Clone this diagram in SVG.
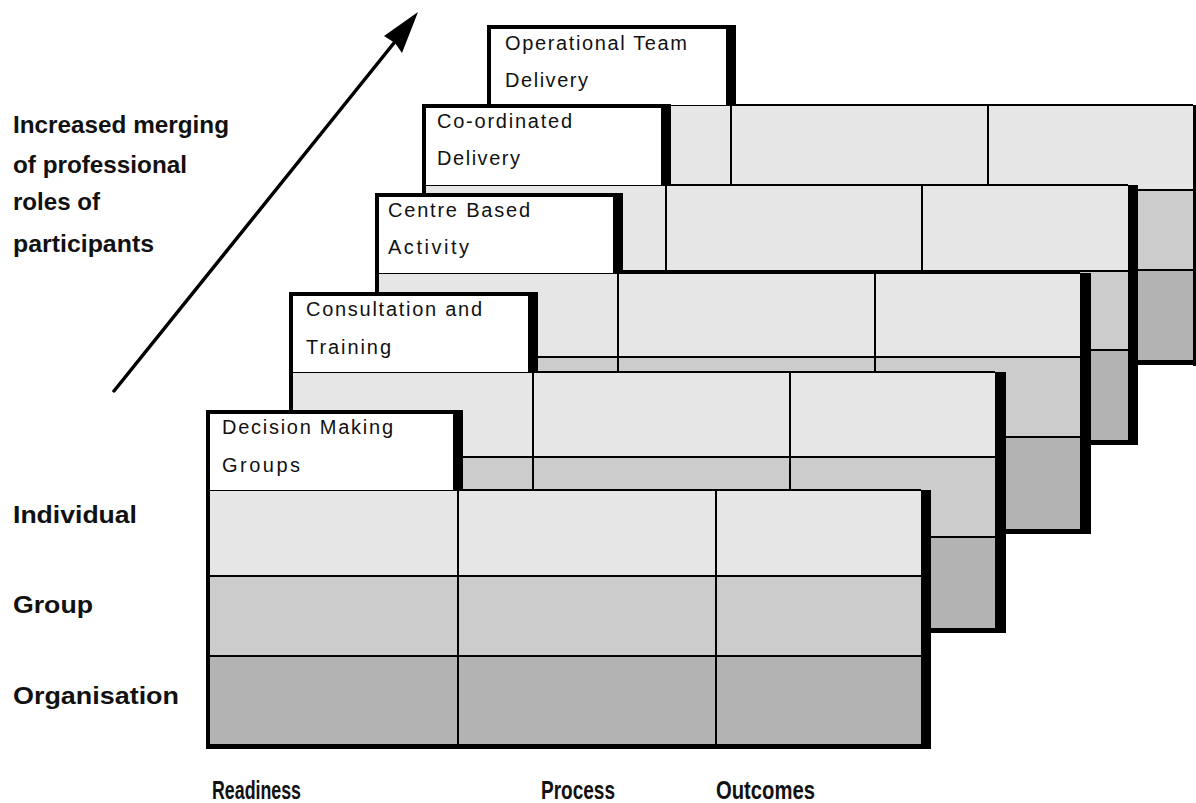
<svg xmlns="http://www.w3.org/2000/svg" width="1196" height="803" viewBox="0 0 1196 803">
<style>
.light{fill:#e6e6e6}
.mid{fill:#cccccc}
.dark{fill:#b3b3b3}
.ln{stroke:#000;stroke-width:2;fill:none}
.tab{fill:#fff}
.blk{fill:#000}
.tt{font-family:"Liberation Sans",Arial,sans-serif;font-size:20px;fill:#111}
.lb{font-family:"Liberation Sans",Arial,sans-serif;font-size:24px;font-weight:bold;fill:#111}
.ax{font-family:"Liberation Sans",Arial,sans-serif;font-size:25px;font-weight:bold;fill:#111}
</style>
<rect x="0" y="0" width="1196" height="803" fill="#fff"/>

<!-- Layer 4: Operational Team Delivery -->
<g id="layer-operational">
<rect class="light" x="487" y="105" width="706" height="85"/>
<rect class="mid" x="487" y="190" width="706" height="80"/>
<rect class="dark" x="487" y="270" width="706" height="90"/>
<path class="ln" d="M487 105H1193M487 190H1193M487 270H1193M731 105V360M988 105V360"/>
<rect class="tab" x="487" y="25" width="244" height="80"/>
<rect class="blk" x="487" y="25" width="249" height="4"/>
<rect class="blk" x="726" y="25" width="10" height="81"/>
<rect class="blk" x="487" y="25" width="4" height="340"/>
<rect class="blk" x="1193" y="105" width="10" height="261"/>
<rect class="blk" x="487" y="360" width="716" height="5"/>
<text class="tt" x="505" y="50" textLength="182" lengthAdjust="spacing">Operational Team</text>
<text class="tt" x="505" y="87" textLength="83" lengthAdjust="spacing">Delivery</text>
</g>

<!-- Layer 3: Co-ordinated Delivery -->
<g id="layer-coordinated">
<rect class="light" x="422" y="185" width="706" height="86"/>
<rect class="mid" x="422" y="271" width="706" height="79"/>
<rect class="dark" x="422" y="350" width="706" height="90"/>
<path class="ln" d="M422 185H1128M422 271H1128M422 350H1128M666 185V440M922 185V440"/>
<rect class="tab" x="422" y="104" width="244" height="81"/>
<rect class="blk" x="422" y="104" width="249" height="4"/>
<rect class="blk" x="661" y="104" width="10" height="82"/>
<rect class="blk" x="422" y="104" width="4" height="340"/>
<rect class="blk" x="1128" y="185" width="10" height="260"/>
<rect class="blk" x="422" y="440" width="716" height="5"/>
<text class="tt" x="437" y="128" textLength="135" lengthAdjust="spacing">Co-ordinated</text>
<text class="tt" x="437" y="165" textLength="83" lengthAdjust="spacing">Delivery</text>
</g>

<!-- Layer 2: Centre Based Activity -->
<g id="layer-centre">
<rect class="light" x="375" y="273" width="705" height="84"/>
<rect class="mid" x="375" y="357" width="705" height="80"/>
<rect class="dark" x="375" y="437" width="705" height="92"/>
<path class="ln" d="M375 273H1080M375 357H1080M375 437H1080M618 273V529M875 273V529"/>
<rect class="tab" x="375" y="193" width="243" height="80"/>
<rect class="blk" x="375" y="193" width="248" height="4"/>
<rect class="blk" x="613" y="193" width="10" height="81"/>
<rect class="blk" x="375" y="193" width="4" height="340"/>
<rect class="blk" x="1080" y="273" width="11" height="260"/>
<rect class="blk" x="375" y="529" width="716" height="5"/>
<text class="tt" x="388" y="217" textLength="142" lengthAdjust="spacing">Centre Based</text>
<text class="tt" x="388" y="254" textLength="81" lengthAdjust="spacing">Activity</text>
</g>

<!-- Layer 1: Consultation and Training -->
<g id="layer-consultation">
<rect class="light" x="289" y="372" width="706" height="85"/>
<rect class="mid" x="289" y="457" width="706" height="80"/>
<rect class="dark" x="289" y="537" width="706" height="91"/>
<path class="ln" d="M289 372H995M289 457H995M289 537H995M533 372V628M790 372V628"/>
<rect class="tab" x="289" y="292" width="244" height="80"/>
<rect class="blk" x="289" y="292" width="249" height="4"/>
<rect class="blk" x="528" y="292" width="10" height="81"/>
<rect class="blk" x="289" y="292" width="4" height="340"/>
<rect class="blk" x="995" y="372" width="11" height="260"/>
<rect class="blk" x="289" y="628" width="717" height="5"/>
<text class="tt" x="306" y="316" textLength="176" lengthAdjust="spacing">Consultation and</text>
<text class="tt" x="306" y="354" textLength="85" lengthAdjust="spacing">Training</text>
</g>

<!-- Layer 0: Decision Making Groups -->
<g id="layer-decision">
<rect class="light" x="206" y="490" width="715" height="86"/>
<rect class="mid" x="206" y="576" width="715" height="80"/>
<rect class="dark" x="206" y="656" width="715" height="89"/>
<path class="ln" d="M206 490H921M206 576H921M206 656H921M458 490V745M716 490V745"/>
<rect class="tab" x="206" y="410" width="252" height="80"/>
<rect class="blk" x="206" y="410" width="257" height="4"/>
<rect class="blk" x="453" y="410" width="10" height="81"/>
<rect class="blk" x="206" y="410" width="4" height="339"/>
<rect class="blk" x="921" y="490" width="10" height="259"/>
<rect class="blk" x="206" y="744" width="725" height="5"/>
<text class="tt" x="222" y="434" textLength="171" lengthAdjust="spacing">Decision Making</text>
<text class="tt" x="222" y="472" textLength="78" lengthAdjust="spacing">Groups</text>
</g>

<!-- Arrow -->
<g id="connectors">
<line x1="114" y1="391" x2="398" y2="38" stroke="#000" stroke-width="3.5" stroke-linecap="round"/>
<polygon points="418,12 402,53 395,43 384,36" fill="#000"/>
</g>

<!-- Labels -->
<g id="side-label">
<text class="lb" x="13" y="133" textLength="216" lengthAdjust="spacingAndGlyphs">Increased merging</text>
<text class="lb" x="13" y="173" textLength="174" lengthAdjust="spacingAndGlyphs">of professional</text>
<text class="lb" x="13" y="210" textLength="87" lengthAdjust="spacingAndGlyphs">roles of</text>
<text class="lb" x="13" y="252" textLength="141" lengthAdjust="spacingAndGlyphs">participants</text>
</g>
<g id="row-labels">
<text class="lb" x="13" y="523" textLength="124" lengthAdjust="spacingAndGlyphs">Individual</text>
<text class="lb" x="13" y="613" textLength="80" lengthAdjust="spacingAndGlyphs">Group</text>
<text class="lb" x="13" y="704" textLength="166" lengthAdjust="spacingAndGlyphs">Organisation</text>
</g>
<g id="col-labels">
<text class="ax" x="212" y="799" textLength="89" lengthAdjust="spacingAndGlyphs">Readiness</text>
<text class="ax" x="541" y="799" textLength="74" lengthAdjust="spacingAndGlyphs">Process</text>
<text class="ax" x="716" y="799" textLength="99" lengthAdjust="spacingAndGlyphs">Outcomes</text>
</g>
</svg>
